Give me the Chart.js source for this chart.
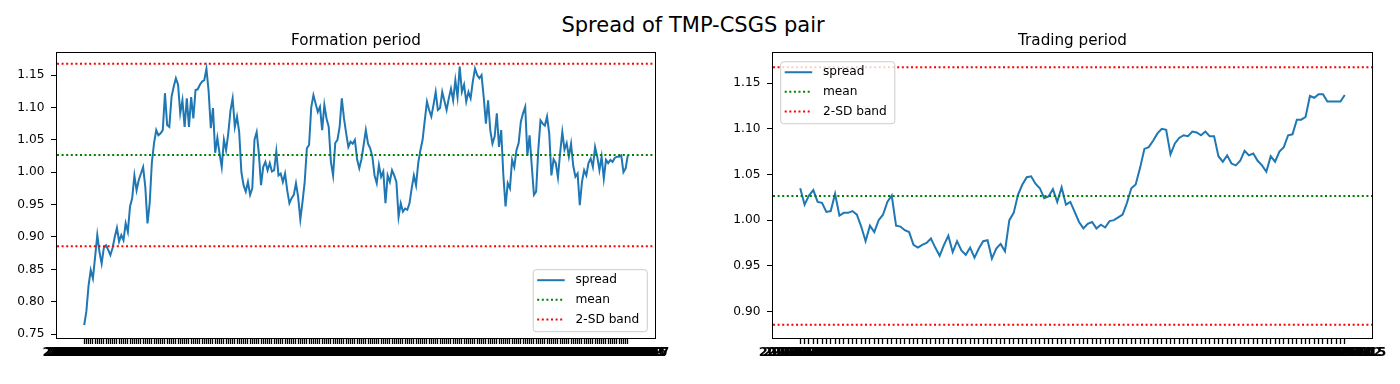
<!DOCTYPE html>
<html>
<head>
<meta charset="utf-8">
<script src="https://cdn.jsdelivr.net/npm/chart.js@4"></script>
<style>
  html, body { margin: 0; padding: 0; background: #fff; }
  #wrap { position: relative; width: 1400px; height: 384px; overflow: hidden; }
  #suptitle { position: absolute; left: 0; width: 1386px; top: 15px; text-align: center;
    font: 21px "DejaVu Sans"; line-height: 21px; color: #000; }
  canvas { position: absolute; top: 0; }
</style>
</head>
<body>
<div id="wrap">
  <div id="suptitle">Spread of TMP-CSGS pair</div>
  <canvas id="formation" width="700" height="384" style="left:0"></canvas>
  <canvas id="trading" width="700" height="384" style="left:700px"></canvas>
</div>
<script>
// spread in the formation period (one value per trading day)
const formationSpread = [
  0.764, 0.785, 0.825, 0.849, 0.836, 0.869, 0.903, 0.877, 0.859, 0.883,
  0.887, 0.880, 0.872, 0.883, 0.900, 0.914, 0.893, 0.903, 0.895, 0.921,
  0.908, 0.947, 0.960, 0.995, 0.972, 0.988, 0.998, 1.008, 0.977, 0.921,
  0.952, 1.015, 1.045, 1.065, 1.057, 1.060, 1.065, 1.122, 1.073, 1.070,
  1.116, 1.132, 1.145, 1.135, 1.091, 1.111, 1.070, 1.114, 1.070, 1.116,
  1.083, 1.127, 1.128, 1.135, 1.140, 1.142, 1.160, 1.125, 1.068, 1.099,
  1.030, 1.053, 1.029, 1.008, 1.050, 1.034, 1.060, 1.095, 1.114, 1.070,
  1.086, 1.062, 1.000, 0.980, 0.970, 0.985, 0.965, 0.975, 1.050, 1.062,
  1.029, 0.980, 1.008, 1.016, 1.003, 1.014, 1.001, 1.003, 1.032, 0.995,
  0.998, 0.985, 0.998, 0.972, 0.952, 0.960, 0.965, 0.983, 0.962, 0.927,
  0.954, 0.985, 1.037, 1.042, 1.100, 1.119, 1.106, 1.093, 1.101, 1.065,
  1.104, 1.083, 1.070, 1.016, 0.995, 1.045, 1.050, 1.070, 1.114, 1.083,
  1.060, 1.039, 1.047, 1.044, 1.050, 1.020, 1.006, 1.020, 1.042, 1.065,
  1.044, 1.037, 1.024, 0.995, 0.983, 1.011, 0.993, 1.001, 0.952, 0.995,
  0.985, 1.003, 0.995, 0.985, 0.931, 0.952, 0.939, 0.944, 0.942, 0.952,
  0.975, 0.995, 0.980, 1.014, 1.034, 1.050, 1.080, 1.109, 1.096, 1.086,
  1.104, 1.124, 1.096, 1.099, 1.124, 1.110, 1.096, 1.114, 1.129, 1.111,
  1.142, 1.116, 1.163, 1.124, 1.135, 1.109, 1.124, 1.114, 1.140, 1.160,
  1.150, 1.145, 1.150, 1.116, 1.075, 1.111, 1.065, 1.044, 1.055, 1.091,
  1.039, 1.065, 0.995, 0.947, 0.983, 0.975, 1.019, 1.008, 1.034, 1.045,
  1.078, 1.091, 1.101, 1.026, 1.057, 1.010, 0.965, 0.970, 1.035, 1.080,
  1.075, 1.072, 1.086, 1.060, 0.995, 1.020, 1.014, 0.992, 1.030, 1.062,
  1.035, 1.045, 1.024, 1.044, 1.010, 0.993, 0.998, 0.949, 0.985, 1.003,
  0.995, 1.014, 1.021, 1.008, 1.039, 1.024, 1.003, 1.024, 0.990, 1.019,
  1.014, 1.019, 1.016, 1.022, 1.024, 1.024, 1.026, 1.000, 1.006, 1.026
];

// spread in the trading period
const tradingSpread = [
  1.035, 1.017, 1.027, 1.033, 1.020, 1.019, 1.009, 1.010, 1.029, 1.005,
  1.008, 1.008, 1.010, 1.006, 0.993, 0.977, 0.994, 0.987, 1.000, 1.006,
  1.020, 1.027, 0.994, 0.993, 0.989, 0.987, 0.973, 0.970, 0.973, 0.975,
  0.980, 0.970, 0.961, 0.973, 0.983, 0.965, 0.977, 0.967, 0.962, 0.970,
  0.959, 0.969, 0.977, 0.978, 0.958, 0.969, 0.974, 0.966, 1.000, 1.008,
  1.028, 1.039, 1.047, 1.048, 1.040, 1.035, 1.024, 1.026, 1.034, 1.020,
  1.036, 1.017, 1.020, 1.009, 0.998, 0.991, 0.996, 0.998, 0.991, 0.995,
  0.992, 0.999, 1.000, 1.003, 1.006, 1.019, 1.035, 1.039, 1.057, 1.078,
  1.080, 1.087, 1.095, 1.100, 1.099, 1.072, 1.084, 1.090, 1.093, 1.092,
  1.097, 1.096, 1.093, 1.097, 1.092, 1.092, 1.070, 1.064, 1.071, 1.062,
  1.060, 1.065, 1.076, 1.071, 1.073, 1.065, 1.060, 1.053, 1.070, 1.064,
  1.075, 1.080, 1.093, 1.094, 1.110, 1.110, 1.113, 1.136, 1.134, 1.138,
  1.138, 1.130, 1.130, 1.130, 1.130, 1.137
];

// formation-period mean and 2-SD band
const spreadMean = 1.0265;
const bandUpper = 1.1675;
const bandLower = 0.8855;

const formationTicks = [0.75, 0.80, 0.85, 0.90, 0.95, 1.00, 1.05, 1.10, 1.15];
const tradingTicks = [0.90, 0.95, 1.00, 1.05, 1.10, 1.15];

// trading-day date labels
function weekdays(start, n) {
  const out = [];
  const d = new Date(start + 'T00:00:00Z');
  while (out.length < n) {
    const wd = d.getUTCDay();
    if (wd !== 0 && wd !== 6) out.push(d.toISOString().slice(0, 10));
    d.setUTCDate(d.getUTCDate() + 1);
  }
  return out;
}
const formationDates = weekdays('2019-01-02', formationSpread.length);
const tradingDates = weekdays('2019-12-23', tradingSpread.length);

Chart.defaults.font.family = '"DejaVu Sans"';
Chart.defaults.color = '#000';

const frame = {
  id: 'frame',
  afterDraw(chart) {
    const a = chart.chartArea, ctx = chart.ctx;
    ctx.save();
    ctx.strokeStyle = '#000';
    ctx.lineWidth = 1;
    ctx.strokeRect(Math.round(a.left) - 0.5, Math.round(a.top) - 0.5,
      Math.round(a.right - a.left) + 1, Math.round(a.bottom - a.top) + 1);
    ctx.restore();
  }
};

const legendBox = {
  id: 'legendBox',
  afterDraw(chart, args, opts) {
    const ctx = chart.ctx, a = chart.chartArea;
    const items = chart.data.datasets.filter(d => d.label);
    ctx.save();
    ctx.font = '12.2px "DejaVu Sans"';
    const textW = Math.max(...items.map(d => ctx.measureText(d.label).width));
    const w = 42.3 + textW + 8, h = 62;
    const x = opts.corner === 'lr' ? a.right - 7.7 - w : a.left + 7.7;
    const y = opts.corner === 'lr' ? a.bottom - 6.3 - h : a.top + 8.7;
    ctx.beginPath();
    ctx.roundRect(x, y, w, h, 3);
    ctx.fillStyle = 'rgba(255,255,255,0.8)';
    ctx.fill();
    ctx.strokeStyle = '#cccccc';
    ctx.lineWidth = 1;
    ctx.stroke();
    items.forEach((d, i) => {
      const cy = y + 10.5 + i * 19.6;
      ctx.beginPath();
      ctx.setLineDash(d.borderDash || []);
      ctx.strokeStyle = d.borderColor;
      ctx.lineWidth = d.borderWidth;
      ctx.moveTo(x + 4, cy);
      ctx.lineTo(x + 31.5, cy);
      ctx.stroke();
      ctx.setLineDash([]);
      ctx.fillStyle = '#000';
      ctx.textBaseline = 'middle';
      ctx.fillText(d.label, x + 42.3, cy);
    });
    ctx.restore();
  }
};

function makeChart(id, title, values, dates, yTicks, yMin, yMax, yWidth, padRight, corner) {
  const n = values.length;
  const xMin = -0.05 * (n - 1), xMax = 1.05 * (n - 1);
  const hline = v => [{ x: xMin, y: v }, { x: xMax, y: v }];
  const dotted = [2, 2.6];
  return new Chart(document.getElementById(id), {
    type: 'line',
    data: {
      datasets: [
        { label: 'spread', data: values.map((v, i) => ({ x: i, y: v })),
          borderColor: '#1f77b4', borderWidth: 2, order: 1 },
        { label: 'mean', data: hline(spreadMean), borderColor: '#008000',
          borderWidth: 2, borderDash: dotted, order: 0 },
        { label: '2-SD band', data: hline(bandUpper), borderColor: '#ff0000',
          borderWidth: 2, borderDash: dotted, order: 0 },
        { label: '', data: hline(bandLower), borderColor: '#ff0000',
          borderWidth: 2, borderDash: dotted, order: 0 }
      ]
    },
    options: {
      responsive: false,
      animation: false,
      devicePixelRatio: 1,
      events: [],
      elements: { point: { radius: 0 }, line: { tension: 0, borderCapStyle: 'butt' } },
      layout: { padding: { left: 0, right: padRight, top: 0, bottom: 0 } },
      plugins: {
        legend: { display: false },
        tooltip: { enabled: false },
        title: { display: true, text: title, fullSize: false, color: '#000',
          font: { size: 15.2, weight: 'normal', lineHeight: 1.2 },
          padding: { top: 32.4, bottom: 2.4 } },
        legendBox: { corner }
      },
      scales: {
        x: {
          type: 'linear', min: xMin, max: xMax,
          afterBuildTicks: s => { s.ticks = dates.map((_, i) => ({ value: i })); },
          afterFit: s => { s.height = 46; },
          ticks: { autoSkip: false, maxRotation: 0, minRotation: 0, padding: 1,
            color: '#000', font: { size: 13, weight: 'bold' },
            callback: v => dates[Math.round(v)] },
          grid: { drawOnChartArea: false, drawTicks: true, tickLength: 6,
            tickWidth: 1.3, color: '#000' },
          border: { display: false }
        },
        y: {
          min: yMin, max: yMax,
          afterBuildTicks: s => { s.ticks = yTicks.map(v => ({ value: v })); },
          afterFit: s => { s.width = yWidth; },
          ticks: { padding: 6.5, color: '#000', font: { size: 12.2 },
            callback: v => v.toFixed(2) },
          grid: { drawOnChartArea: false, drawTicks: true, tickLength: 6, color: '#000' },
          border: { display: false }
        }
      }
    },
    plugins: [frame, legendBox]
  });
}

makeChart('formation', 'Formation period', formationSpread, formationDates,
  formationTicks, 0.744, 1.184, 57, 45, 'lr');
makeChart('trading', 'Trading period', tradingSpread, tradingDates,
  tradingTicks, 0.871, 1.183, 73, 28, 'ul');
</script>
</body>
</html>
